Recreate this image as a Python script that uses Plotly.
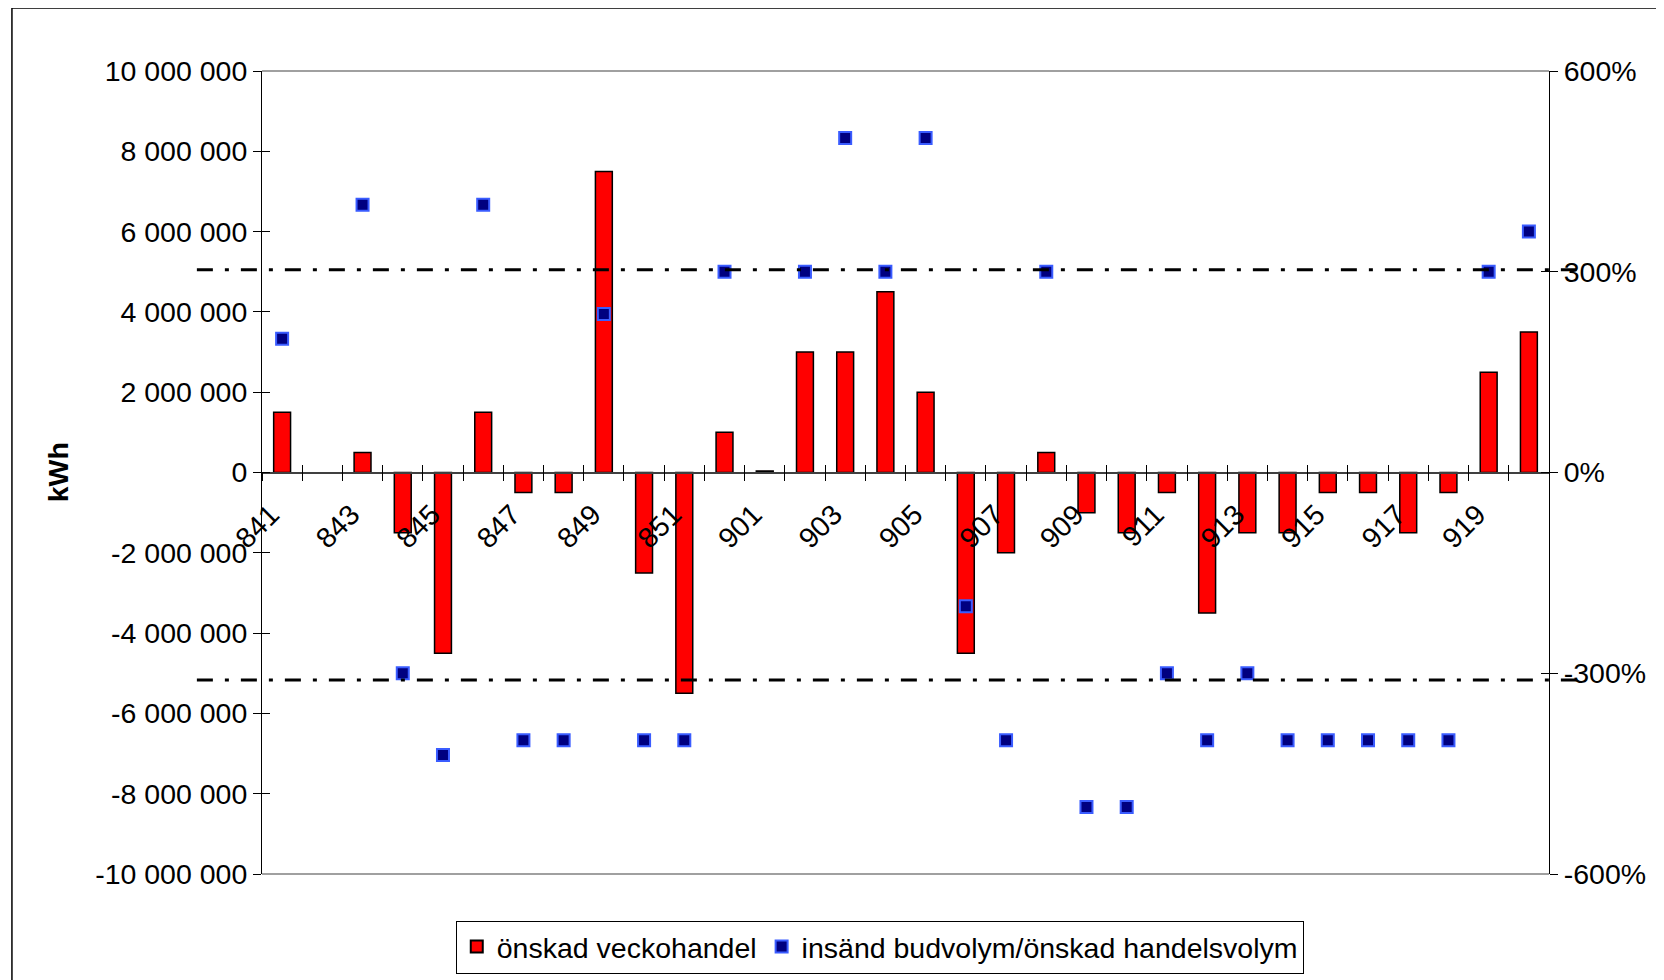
import plotly.graph_objects as go

# weeks (year-week codes)
weeks = ["841", "842", "843", "844", "845", "846", "847", "848", "849", "850",
         "851", "852", "901", "902", "903", "904", "905", "906", "907", "908",
         "909", "910", "911", "912", "913", "914", "915", "916", "917", "918",
         "919", "920"]

# önskad veckohandel, kWh
trade_kwh = [1500000, None, 500000, -1500000, -4500000, 1500000, -500000, -500000,
             7500000, -2500000, -5500000, 1000000, 40000, 3000000, 3000000, 4500000,
             2000000, -4500000, -2000000, 500000, -1000000, -1500000, -500000, -3500000,
             -1500000, -1500000, -500000, -500000, -1500000, -500000, 2500000, 3500000]

# insänd budvolym / önskad handelsvolym, %
ratio_pct = [200, None, 400, -300, -422, 400, -400, -400, 237, -400, -400, 300,
             None, 300, 500, 300, 500, -200, -400, 300, -500, -500, -300, -400,
             -300, -400, -400, -400, -400, -400, 300, 360]

# limit lines, %
limits_pct = [303, -310]

left_ticks = [10000000, 8000000, 6000000, 4000000, 2000000, 0,
              -2000000, -4000000, -6000000, -8000000, -10000000]
left_text = ["{:,}".format(v).replace(",", " ") for v in left_ticks]
right_ticks = [600, 300, 0, -300, -600]
right_text = ["{}%".format(v) for v in right_ticks]
# every other week labelled; trailing nbsp nudges the rotated label down-left
week_text = [w + "\u00a0\u00a0" if i % 2 == 0 else "" for i, w in enumerate(weeks)]

FONT = "Arial, Liberation Sans, sans-serif"
FS = 28.5
XR = [-0.5, len(weeks) - 0.5]

fig = go.Figure()
fig.add_trace(go.Bar(x=weeks, y=trade_kwh, name="önskad veckohandel",
                     marker=dict(color="#ff0000",
                                 line=dict(color="black", width=1.5)),
                     xaxis="x", yaxis="y"))
fig.add_trace(go.Scatter(x=weeks, y=ratio_pct, mode="markers",
                         name="insänd budvolym/önskad handelsvolym",
                         marker=dict(symbol="square", size=12, color="#000080",
                                     line=dict(color="#3a5cff", width=2)),
                         xaxis="x", yaxis="y2"))
# empty traces so the overlay axes (inner half of crossing ticks) get drawn
fig.add_trace(go.Scatter(x=[], y=[], xaxis="x2", yaxis="y3",
                         showlegend=False, hoverinfo="skip"))
fig.add_trace(go.Scatter(x=[], y=[], xaxis="x2", yaxis="y4",
                         showlegend=False, hoverinfo="skip"))

for lim in limits_pct:
    fig.add_shape(type="line", xref="paper", yref="y2",
                  x0=-0.0506, x1=1.0214, y0=lim, y1=lim,
                  line=dict(color="black", width=3, dash="16px,12px,4px,12px"))

# plot area top/bottom border
for yy in (0, 1):
    fig.add_shape(type="line", xref="paper", yref="paper", x0=0, x1=1,
                  y0=yy, y1=yy, line=dict(color="#808080", width=1.5))

# outer chart frame
fig.add_shape(type="rect", xref="paper", yref="paper",
              x0=-0.1943, x1=1.3, y0=-0.3, y1=1.0785,
              line=dict(color="black", width=1.5), fillcolor="rgba(0,0,0,0)",
              layer="below")

fig.add_annotation(text="<b>kWh</b>", xref="paper", yref="paper",
                   x=-0.1726, y=0.5, textangle=-90, showarrow=False,
                   font=dict(family=FONT, size=FS, color="black"))

xcommon = dict(type="category", categoryorder="array", categoryarray=weeks,
               range=XR, anchor="free", position=0.5, tickson="boundaries",
               tickvals=weeks, ticklen=8, tickcolor="black", showgrid=False,
               zeroline=False)
ycommon = dict(range=[-10000000, 10000000], showgrid=False, zeroline=False,
               ticklen=8, tickcolor="black")

fig.update_layout(
    width=1664, height=980,
    # page body adds 8px offset, so margins are reduced by 8
    margin=dict(l=254, r=123, t=63, b=114),
    paper_bgcolor="white", plot_bgcolor="white",
    font=dict(family=FONT, size=FS, color="black"),
    bargap=0.58,
    showlegend=True,
    legend=dict(orientation="h", x=0.48, xanchor="center", y=-0.058,
                yanchor="top", bordercolor="black", borderwidth=1,
                bgcolor="white", font=dict(family=FONT, size=FS),
                itemsizing="constant", tracegroupgap=0),
    xaxis=dict(xcommon, ticktext=week_text, ticks="outside", tickangle=-45,
               ticklabelstandoff=2,
               showline=True, linecolor="#404040", linewidth=1.5,
               tickfont=dict(family=FONT, size=FS)),
    xaxis2=dict(xcommon, overlaying="x", ticks="inside",
                showticklabels=False, showline=False),
    yaxis=dict(ycommon, tickvals=left_ticks, ticktext=left_text,
               ticks="outside", showline=True, linecolor="black", linewidth=1,
               anchor="x", side="left"),
    yaxis2=dict(range=[-600, 600], tickvals=right_ticks, ticktext=right_text,
                overlaying="y", side="right", anchor="x", ticks="outside",
                ticklen=8, tickcolor="black", showline=True, linecolor="black",
                linewidth=1, showgrid=False, zeroline=False),
    yaxis3=dict(ycommon, tickvals=left_ticks, overlaying="y",
                side="left", anchor="x", ticks="inside", showticklabels=False,
                showline=False),
    yaxis4=dict(range=[-600, 600], tickvals=right_ticks, overlaying="y",
                side="right", anchor="x", ticks="inside", ticklen=8,
                tickcolor="black", showticklabels=False, showline=False,
                showgrid=False, zeroline=False),
)

fig.write_html("out.html")
